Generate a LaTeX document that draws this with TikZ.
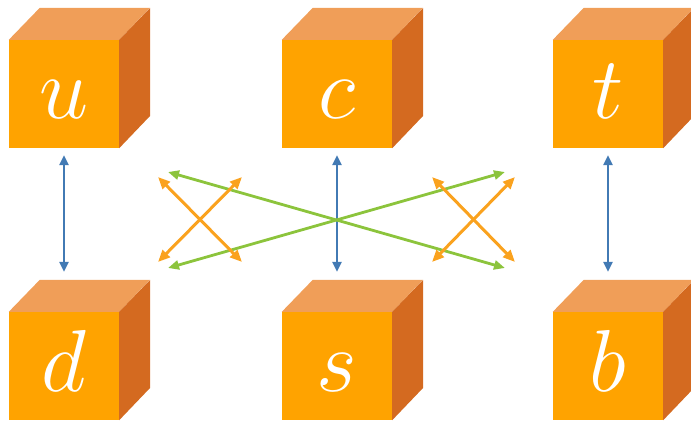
\documentclass[tikz,border=0pt]{standalone}
\usepackage{fix-cm}
\usepackage{xcolor}
\usetikzlibrary{arrows.meta}
\definecolor{cubefront}{RGB}{255,163,0}
\definecolor{cubetop}{RGB}{240,158,88}
\definecolor{cubeside}{RGB}{212,106,32}
\definecolor{arrblue}{RGB}{66,122,180}
\definecolor{arrgreen}{RGB}{140,196,60}
\definecolor{arrorange}{RGB}{250,162,30}
\begin{document}
\begin{tikzpicture}[
  x=1pt, y=-1pt,
  cube/.style={fill=cubefront, minimum width=110pt, minimum height=108pt,
               inner sep=0pt, text=white, text height=50pt, text depth=0pt,
               font=\fontsize{88}{88}\selectfont},
  topface/.style={fill=cubetop},
  sideface/.style={fill=cubeside},
  blu/.style={{Triangle[length=10pt, width=9pt]}-{Triangle[length=10pt, width=9pt]}, line width=2.8pt, draw=arrblue},
  grn/.style={{Triangle[length=11pt, width=9pt]}-{Triangle[length=11pt, width=9pt]}, line width=2.8pt, draw=arrgreen},
  org/.style={{Triangle[length=12pt, width=10pt]}-{Triangle[length=12pt, width=10pt]}, line width=3pt, draw=arrorange}
]
\useasboundingbox (0,0) rectangle (691,422);
\foreach \n/\x/\y in {u/64/94, c/337/94, t/608/94, d/64/366, s/337/366, b/608/366} {
  \node[cube] (\n) at (\x,\y) {$\n$};
  \fill[topface] (\n.north west) -- ++(31,-32) -- ++(110,0) -- (\n.north east) -- cycle;
  \fill[sideface] (\n.north east) -- ++(31,-32) -- ++(0,108) -- (\n.south east) -- cycle;
}
\foreach \a/\b in {u/d, c/s, t/b}
  \draw[blu, shorten <=7pt, shorten >=40pt] (\a) -- (\b);
% long crossing pair
\coordinate (gl1) at (168,172); \coordinate (gr1) at (505,268);
\coordinate (gl2) at (168,268); \coordinate (gr2) at (505,172);
\draw[grn] (gl1) -- (gr1);
\draw[grn] (gl2) -- (gr2);
% short crossing pairs
\coordinate (ola) at (158,177); \coordinate (olb) at (242,262);
\coordinate (olc) at (158,262); \coordinate (old) at (242,177);
\coordinate (ora) at (432,177); \coordinate (orb) at (515,262);
\coordinate (orc) at (432,262); \coordinate (ord) at (515,177);
\foreach \a/\b in {ola/olb, olc/old, ora/orb, orc/ord}
  \draw[org] (\a) -- (\b);
\end{tikzpicture}
\end{document}
